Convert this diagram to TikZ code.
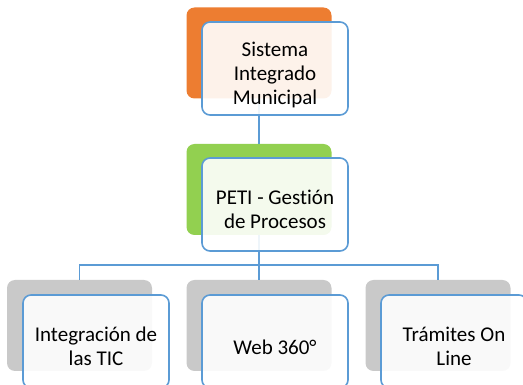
\documentclass[tikz,border=0pt]{standalone}
\usepackage{fontspec}
\setmainfont{Carlito}[Ligatures=NoCommon]
\definecolor{accorange}{HTML}{ED7D31}
\definecolor{accgreen}{HTML}{92D050}
\definecolor{accgray}{HTML}{C9C9C9}
\definecolor{accblue}{HTML}{5B9BD5}
\begin{document}
\begin{tikzpicture}[x=1pt,y=-1pt,
  backbox/.style={rectangle,rounded corners=8pt,minimum width=145pt,minimum height=91pt,inner sep=0pt,draw=none},
  frontbox/.style={rectangle,rounded corners=8pt,minimum width=146pt,minimum height=93pt,inner sep=0pt,
    draw=accblue,line width=1.6pt,fill=white,fill opacity=0.9,text opacity=1},
  label/.style={align=center,font=\fontsize{21}{24}\selectfont,text=black},
  link/.style={draw=accblue,line width=1.8pt}]
\useasboundingbox (0,0) rectangle (523,385);
\clip (0,0) rectangle (523,385);

% back (accent) boxes
\node[backbox,fill=accorange] (topb) at (259,53) {};
\node[backbox,fill=accgreen] (midb) at (259,189.5) {};
\node[backbox,fill=accgray] (leftb) at (79.5,325.5) {};
\node[backbox,fill=accgray] (cenb) at (259,325.5) {};
\node[backbox,fill=accgray] (rightb) at (438,325.5) {};

% connectors, drawn beneath the front boxes
\coordinate (fork) at (259,265);
\draw[link] (topb.south) -- (midb.north);
\draw[link] (midb.south) -- (fork) -- (cenb.north);
\draw[link] (fork) -| (leftb.north);
\draw[link] (fork) -| (rightb.north);

% front boxes
\node[frontbox] (top) at (275,68.5) {};
\node[frontbox] (mid) at (275,204.5) {};
\node[frontbox] (left) at (96,341.5) {};
\node[frontbox] (cen) at (275,341.5) {};
\node[frontbox] (right) at (454,341.5) {};

% texts (text sits slightly below each box centre)
\node[label] (ttop) at ([yshift=-6pt]top.center) {Sistema\\Integrado\\Municipal};
\node[label] (tmid) at ([yshift=-5pt]mid.center) {PETI - Gestión\\de Procesos};
\node[label] (tleft) at ([yshift=-5pt]left.center) {Integración de\\las TIC};
\node[label] (tcen) at ([yshift=-6pt]cen.center) {Web 360°};
\node[label] (tright) at ([yshift=-5pt]right.center) {Trámites On\\Line};
\end{tikzpicture}
\end{document}
